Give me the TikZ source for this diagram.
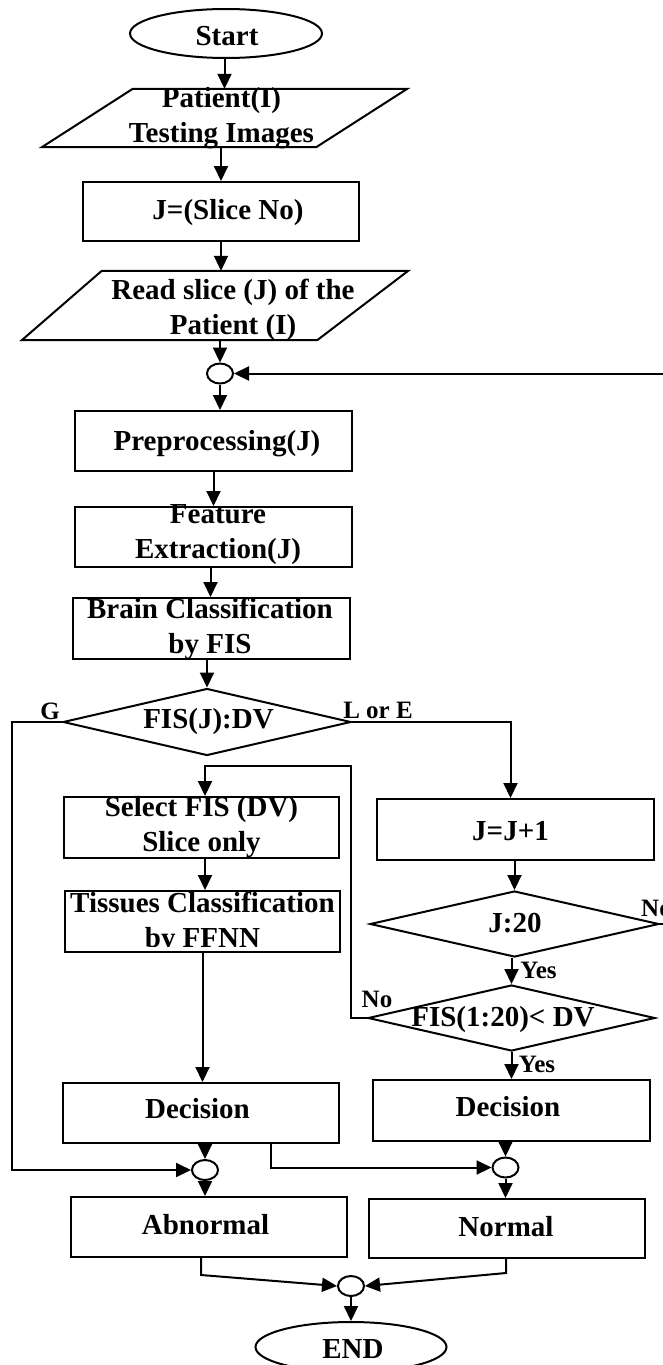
\documentclass[tikz,border=0pt]{standalone}
\usepackage{fontspec}
\setmainfont{Liberation Serif}
\usetikzlibrary{shapes.geometric, arrows.meta, calc}

\tikzset{
  ln/.style={line width=2pt},
  arr/.style={ln, -{Triangle[width=14pt,length=15pt]}},
  txt/.style={font=\bfseries\fontsize{29}{35}\selectfont, align=center, inner sep=0pt},
  lbl/.style={font=\bfseries\fontsize{25}{30}\selectfont, inner sep=0pt},
  sz/.style 2 args={minimum width=#1pt, minimum height=#2pt},
  procbox/.style={draw, ln, rectangle, inner sep=0pt, fill=white},
  oval/.style={draw, ln, ellipse, inner sep=0pt},
  junc/.style={draw, ln, ellipse, inner sep=0pt, minimum width=26pt, minimum height=20pt},
  decide/.style={draw, ln, diamond, inner sep=0pt},
  io/.style={rectangle, inner sep=0pt},
}

% slanted input/output box drawn inside the frame of an empty node
\newcommand\drawio[3]{\draw[ln] ([xshift=#2pt]#1.north west) -- (#1.north east)
  -- ([xshift=-#3pt]#1.south east) -- (#1.south west) -- cycle;}

\begin{document}
\begin{tikzpicture}[x=1pt, y=-1pt]
\useasboundingbox (0,0) rectangle (663,1365);

% ---- main column ----
\node[oval, sz={192}{49}, label={[txt,xshift=1pt,yshift=-2.5pt]center:Start}] (start) at (226,33.5) {};

\node[io, sz={365}{58}, label={[txt,xshift=-3pt]center:{Patient(I)\\Testing Images}}] (p1) at (224.5,118) {};
\drawio{p1}{91}{91}

\node[procbox, sz={276}{59}, label={[txt,xshift=7pt,yshift=-1pt]center:{J=(Slice No)}}] (slice) at (221,211.5) {};

\node[io, sz={386}{69}, label={[txt,xshift=18pt,yshift=-4pt]center:{Read slice (J) of the\\Patient (I)}}] (p2) at (215,305.5) {};
\drawio{p2}{80}{91}

\node[junc] (j1) at (220,373.5) {};

\node[procbox, sz={277}{60}, label={[txt,xshift=3.5pt,yshift=-2.5pt]center:{Preprocessing(J)}}] (pre) at (213.5,441) {};
\node[procbox, sz={277}{60}, label={[txt,xshift=4.5pt,yshift=2pt]center:{Feature\\Extraction(J)}}] (feat) at (213.5,537) {};
\node[procbox, sz={277}{61}, label={[txt,xshift=-1.5pt]center:{Brain Classification\\by FIS}}] (brain) at (211.5,628.5) {};

\node[decide, sz={288}{67}, label={[txt,xshift=1.5pt]center:{FIS(J):DV}}] (d1) at (207,722) {};

% ---- left branch ----
\node[procbox, sz={275}{61}, label={[txt]center:{Select FIS (DV)\\Slice only}}] (sel) at (201.5,827.5) {};
\node[procbox, sz={275}{61}, path picture={
    \clip ([yshift=6pt]path picture bounding box.south west) rectangle (path picture bounding box.north east);
    \node[txt, yshift=-1.5pt] (tistext) at (path picture bounding box.center) {Tissues Classification\\by FFNN};
  }] (tis) at (202.5,921.5) {};
\node[procbox, sz={276}{60}, label={[txt,xshift=-3.5pt,yshift=4.5pt]center:Decision}] (decL) at (201,1113) {};

% ---- right branch ----
\node[procbox, sz={277}{61}, label={[txt,xshift=-5pt,yshift=-2pt]center:{J=J+1}}] (plus) at (515.5,829.5) {};
\node[decide, sz={289}{66}, label={[txt,xshift=0.5pt,yshift=1pt]center:{J:20}}] (d2) at (514.5,924) {};
\node[decide, sz={287}{66}, label={[txt,xshift=-8.5pt,yshift=-2pt]center:{FIS(1:20)< DV}}] (d3) at (511.5,1018) {};
\node[procbox, sz={277}{61}, label={[txt,xshift=-3.5pt,yshift=3.5pt]center:Decision}] (decR) at (511.5,1110.5) {};

% ---- merging and results ----
\node[junc] (j2) at (205,1170) {};
\node[junc] (j3) at (505.5,1167.5) {};
\node[procbox, sz={276}{60}, label={[txt,xshift=-3.5pt,yshift=2pt]center:Abnormal}] (abn) at (209,1227) {};
\node[procbox, sz={276}{59}, label={[txt,xshift=-1pt,yshift=1.5pt]center:Normal}] (nor) at (507,1228.5) {};
\node[junc] (j4) at (351,1286) {};
\node[oval, sz={191}{50}, label={[txt,xshift=2pt,yshift=-2pt]center:END}] (endn) at (351,1347) {};

% ---- branch labels ----
\node[lbl] (lg) at (50,711) {G};
\node[lbl] (lle) at (378,710) {L or E};
\node[lbl, anchor=west] (lno1) at (641,908) {No};
\node[lbl] (lyes1) at (538.5,970) {Yes};
\node[lbl] (lno2) at (377,999) {No};
\node[lbl] (lyes2) at (537,1064) {Yes};

% ---- connectors ----
\coordinate (back) at (690,373.5);
\coordinate (loop) at (351,766);

\draw[arr] (p1.north |- start.south) -- (p1.north);
\draw[arr] (slice.north |- p1.south) -- (slice.north);
\draw[arr] (slice.south) -- (slice.south |- p2.north);
\draw[arr] (j1.north |- p2.south) -- (j1.north);
\draw[arr] (j1.south) -- (j1.south |- pre.north);
\draw[arr] (pre.south) -- (pre.south |- feat.north);
\draw[arr] ([xshift=-3pt]feat.south) -- ([xshift=-3pt]feat.south |- brain.north);
\draw[arr] (d1.north |- brain.south) -- (d1.north);

\draw[arr] (d1.west) -- ++(-50,0) |- (j2.west);
\draw[arr] (d1.east) -| ([xshift=-5pt]plus.north);
\draw[arr] (d2.north |- plus.south) -- (d2.north);
\draw[arr] (d3.north |- d2.south) -- (d3.north);
\draw[arr] (d2.east) -| (back) -- (j1.east);
\draw[arr] (d3.west) -| (loop) -| ([xshift=3.5pt]sel.north);
\draw[arr] ([xshift=3.5pt]sel.south) -- ([xshift=3.5pt]sel.south |- tis.north);
\draw[arr] (tis.south) -- (tis.south |- decL.north);
\draw[arr] (d3.south) -- (d3.south |- decR.north);

\draw[arr] (j2.north |- decL.south) -- (j2.north);
\draw[arr] ([xshift=70pt]decL.south) |- (j3.west);
\draw[arr] (j3.north |- decR.south) -- (j3.north);
\draw[arr] (j2.south) -- (j2.south |- abn.north);
\draw[arr] (j3.south) -- (j3.south |- nor.north);
\draw[arr] ([xshift=-8pt]abn.south) -- ++(0,17) -- (j4.west);
\draw[arr] ([xshift=-1pt]nor.south) -- ++(0,14) -- (j4.east);
\draw[arr] (j4.south) -- (j4.south |- endn.north);
\end{tikzpicture}
\end{document}
